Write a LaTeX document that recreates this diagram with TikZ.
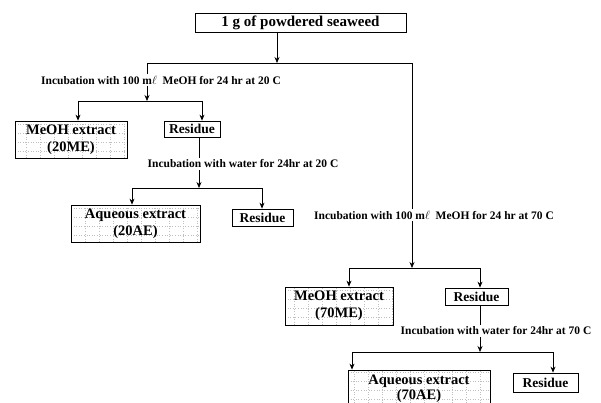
\documentclass[tikz,border=0pt]{standalone}
\usepackage{fontspec}
\setmainfont{Liberation Serif}
\usetikzlibrary{arrows.meta}
\begin{document}
\begin{tikzpicture}[x=1pt,y=-1pt,
  line/.style={draw=black, line width=0.7pt},
  arr/.style={line, -{Stealth[length=6pt,width=5pt]}},
  topbox/.style={draw, line width=0.8pt, minimum width=211pt, minimum height=19pt, inner sep=0pt, font=\fontsize{15}{16}\selectfont\bfseries},
  resbox/.style={draw, line width=0.8pt, inner sep=0pt, font=\fontsize{13.5}{15}\selectfont\bfseries},
  extbox/.style={draw, line width=0.8pt, inner sep=0pt, align=center, font=\fontsize{14.5}{17}\selectfont\bfseries,
    path picture={\draw[gray!50, line width=0.6pt, dotted, xstep=14pt, ystep=9pt] (path picture bounding box.south west) grid (path picture bounding box.north east);}},
  lab/.style={inner xsep=0pt, inner ysep=2pt, font=\fontsize{11.5}{13}\selectfont\bfseries},
]
\clip (0,0) rectangle (601,403);
\fill[white] (0,0) rectangle (601,403);

% nodes
\node[topbox] (top) at (300.5,22.5) {1 g of powdered seaweed};
\node[lab] (l1) at (161,80) {Incubation with 100 m$\ell$\ \ MeOH for 24 hr at 20 C};
\node[extbox, minimum width=112pt, minimum height=37pt] (me20) at (71,139.5) {MeOH extract\\(20ME)};
\node[resbox, minimum width=56pt, minimum height=16pt] (r20a) at (192,129) {Residue};
\node[lab] (l2) at (243,164) {Incubation with water for 24hr at 20 C};
\node[extbox, minimum width=129pt, minimum height=37pt] (ae20) at (135.5,223.5) {Aqueous extract\\(20AE)};
\node[resbox, minimum width=61pt, minimum height=17pt] (r20b) at (262.5,217.5) {Residue};
\node[lab] (l3) at (434,215) {Incubation with 100 m$\ell$\ \ MeOH for 24 hr at 70 C};
\node[extbox, minimum width=108pt, minimum height=38pt] (me70) at (339,306) {MeOH extract\\(70ME)};
\node[resbox, minimum width=63pt, minimum height=17pt] (r70a) at (476.5,296.5) {Residue};
\node[lab] (l4) at (496,331) {Incubation with water for 24hr at 70 C};
\node[extbox, minimum width=142pt, minimum height=38pt, font=\fontsize{14.5}{15}\selectfont\bfseries] (ae70) at (419,389) {Aqueous extract\\(70AE)};
\node[resbox, minimum width=65pt, minimum height=19pt] (r70b) at (545.5,382.5) {Residue};

% junction coordinates
\coordinate (j0) at (277,63); \coordinate (a0) at (147,63); \coordinate (b0) at (412,63);
\coordinate (j1) at (147,101); \coordinate (a1) at (78,101); \coordinate (b1) at (202,101);
\coordinate (j2) at (199,188); \coordinate (a2) at (132,188); \coordinate (b2) at (262,188);
\coordinate (j3) at (412,268); \coordinate (a3) at (349,268); \coordinate (b3) at (480,268);
\coordinate (j4) at (480,352); \coordinate (a4) at (352,352); \coordinate (b4) at (553,352);

% top split
\draw[arr] (top.south -| j0) -- (j0);
\draw[line] (a0) -- (b0);
% left branch (20 C)
\draw[line] (a0) -- (a0 |- l1.north);
\draw[arr] (l1.south -| j1) -- (j1);
\draw[line] (a1) -- (b1);
\draw[arr] (a1) -- (a1 |- me20.north);
\draw[arr] (b1) -- (b1 |- r20a.north);
\draw[line] (r20a.south -| j2) -- (j2 |- l2.north);
\draw[arr] (l2.south -| j2) -- (j2);
\draw[line] (a2) -- (b2);
\draw[arr] (a2) -- (a2 |- ae20.north);
\draw[arr] (b2) -- (b2 |- r20b.north);
% right branch (70 C)
\draw[line] (b0) -- (b0 |- l3.north);
\draw[arr] (l3.south -| j3) -- (j3);
\draw[line] (a3) -- (b3);
\draw[arr] (a3) -- (a3 |- me70.north);
\draw[arr] (b3) -- (b3 |- r70a.north);
\draw[line] (r70a.south -| j4) -- (j4 |- l4.north);
\draw[arr] (l4.south -| j4) -- (j4);
\draw[line] (a4) -- (b4);
\draw[arr] (a4) -- (a4 |- ae70.north);
\draw[arr] (b4) -- (b4 |- r70b.north);
\end{tikzpicture}
\end{document}
